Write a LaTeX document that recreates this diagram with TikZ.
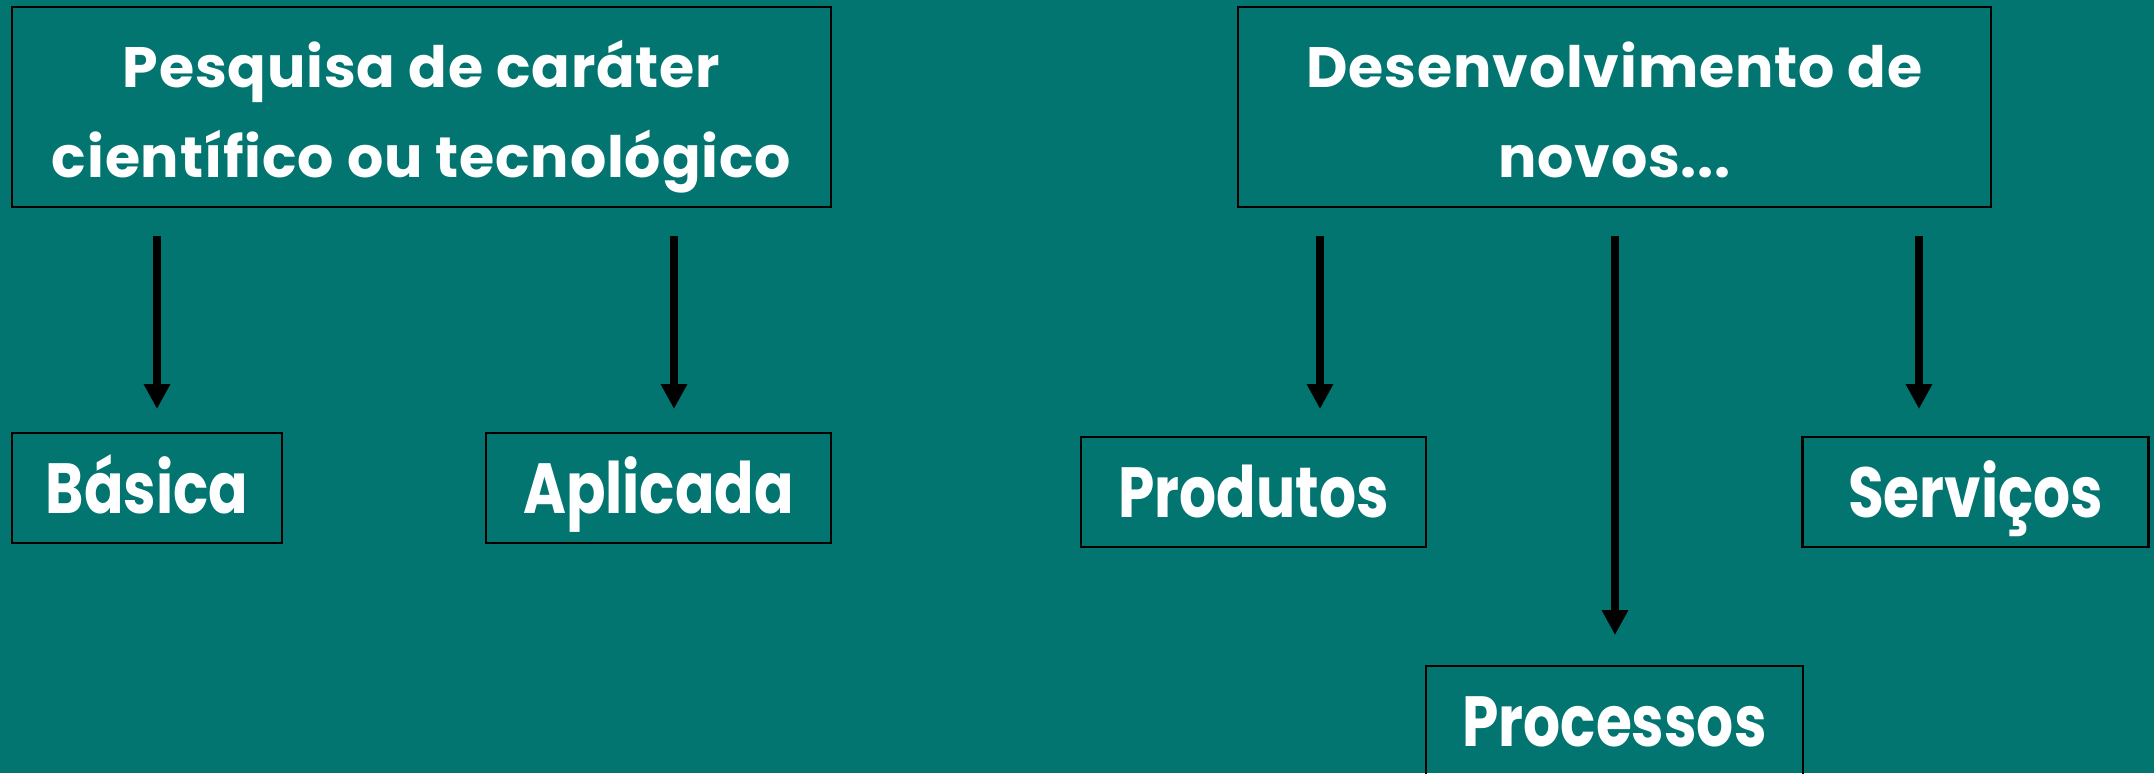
\documentclass[tikz,border=0pt]{standalone}
\usepackage{fontspec}
\setmainfont{Poppins}[FakeStretch=0.82]
\newfontfamily\topfont{Poppins}[LetterSpace=1.5]
\usetikzlibrary{arrows.meta}
\definecolor{bg}{RGB}{2,117,113}
\tikzset{
  box/.style={draw=black, line width=1.2pt, inner sep=0pt, text=white, align=center},
  topbox/.style={box, minimum height=100pt, text height=70pt, text depth=0pt, font=\topfont\bfseries\fontsize{28.5}{45}\selectfont},
  lowbox/.style={box, minimum height=55pt, text height=25pt, text depth=0pt, font=\bfseries\fontsize{35.5}{40}\selectfont},
  arr/.style={line width=3.6pt, -{Triangle[width=12.5pt,length=12.5pt]}, black}
}
\begin{document}
\begin{tikzpicture}[x=0.5pt,y=-0.5pt]
\fill[bg] (0,0) rectangle (2154,773);
\useasboundingbox (0,0) rectangle (2154,773);
\begin{scope}
\clip (0,0) rectangle (2154,773);
\node[topbox, minimum width=409.5pt] (pesq) at (421.5,107) {Pesquisa de caráter\\científico ou tecnológico};
\node[topbox, minimum width=376.5pt] (desen) at (1614.5,107) {Desenvolvimento de\\novos...};
\node[lowbox, minimum width=135pt] (bas) at (147,488) {Básica};
\node[lowbox, minimum width=172.5pt] (apl) at (658.5,488) {Aplicada};
\node[lowbox, minimum width=172.5pt] (prod) at (1253.5,492) {Produtos};
\node[lowbox, minimum width=173pt] (serv) at (1975.5,492) {Serviços};
\node[lowbox, minimum width=188.5pt] (proc) at (1614.5,721) {Processos};
\end{scope}
\coordinate (s1) at (157,236);  \coordinate (e1) at (157,409);
\coordinate (s2) at (674,236);  \coordinate (e2) at (674,409);
\coordinate (s3) at (1320,236); \coordinate (e3) at (1320,409);
\coordinate (s4) at (1615,236); \coordinate (e4) at (1615,635);
\coordinate (s5) at (1919,236); \coordinate (e5) at (1919,409);
\draw[arr] (s1) -- (e1);
\draw[arr] (s2) -- (e2);
\draw[arr] (s3) -- (e3);
\draw[arr] (s4) -- (e4);
\draw[arr] (s5) -- (e5);
\end{tikzpicture}
\end{document}
